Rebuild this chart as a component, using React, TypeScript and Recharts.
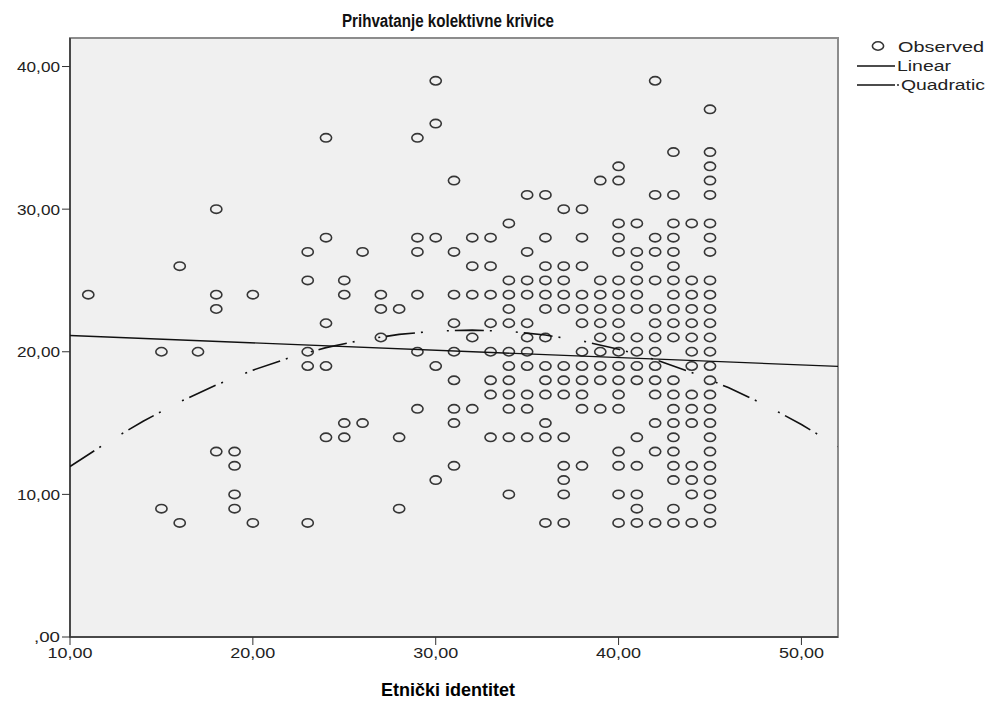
import React from "react";
import { ScatterChart, Scatter, XAxis, YAxis, CartesianGrid, ReferenceArea } from "recharts";

// Etnički identitet (x) columns and the observed scores at each one
const observedX = [11, 15, 16, 17, 18, 19, 20, 23, 24, 25, 26, 27, 28, 29, 30, 31, 32, 33, 34, 35, 36, 37, 38, 39, 40, 41, 42, 43, 44, 45];
const observedY: number[][] = [
  [24],
  [20, 9],
  [26, 8],
  [20],
  [30, 24, 23, 13],
  [13, 12, 10, 9],
  [24, 8],
  [27, 25, 20, 19, 8],
  [35, 28, 22, 19, 14],
  [25, 24, 15, 14],
  [27, 15],
  [24, 23, 21],
  [23, 14, 9],
  [35, 28, 27, 24, 20, 16],
  [39, 36, 28, 19, 11],
  [32, 27, 24, 22, 20, 18, 16, 15, 12],
  [28, 26, 24, 21, 16],
  [28, 26, 24, 22, 20, 18, 17, 14],
  [29, 25, 24, 23, 22, 20, 19, 18, 17, 16, 14, 10],
  [31, 27, 25, 24, 22, 21, 20, 19, 17, 16, 14],
  [31, 28, 26, 25, 24, 23, 21, 19, 18, 17, 15, 14, 8],
  [30, 26, 25, 24, 23, 19, 18, 17, 14, 12, 11, 10, 8],
  [30, 28, 26, 24, 23, 22, 20, 19, 18, 17, 16, 12],
  [32, 25, 24, 23, 22, 21, 20, 19, 18, 16],
  [33, 32, 29, 28, 27, 25, 24, 23, 22, 21, 20, 19, 18, 17, 16, 13, 12, 10, 8],
  [29, 27, 26, 25, 24, 23, 21, 20, 19, 18, 14, 12, 10, 9, 8],
  [39, 31, 28, 27, 25, 23, 22, 21, 20, 19, 18, 17, 15, 13, 8],
  [34, 31, 29, 28, 27, 26, 25, 24, 23, 22, 21, 18, 17, 16, 15, 14, 13, 12, 11, 9, 8],
  [29, 25, 24, 23, 22, 21, 20, 19, 17, 16, 15, 12, 11, 10, 8],
  [37, 34, 33, 32, 31, 29, 28, 27, 25, 24, 23, 22, 21, 20, 19, 18, 17, 16, 15, 14, 13, 12, 11, 10, 9, 8],
];

// fitted lines
const linearX = [10, 52];
const linearY = [21.14, 18.97];
const quadX = [10, 12, 14, 16, 18, 20, 22, 24, 26, 28, 30, 32, 34, 36, 38, 40, 42, 44, 46, 48, 50, 52];
const quadY = [11.95, 13.62, 15.13, 16.49, 17.67, 18.71, 19.58, 20.29, 20.83, 21.22, 21.45, 21.52, 21.43, 21.17, 20.76, 20.18, 19.45, 18.55, 17.49, 16.28, 14.9, 13.36];

const xTicks = [10, 20, 30, 40, 50];
const yTicks = [0, 10, 20, 30, 40];

const observed = observedX.flatMap((x, i) => observedY[i].map((y) => ({ x, y })));
const linear = linearX.map((x, i) => ({ x, y: linearY[i] }));
const quadratic = quadX.map((x, i) => ({ x, y: quadY[i] }));

const FONT = "'Liberation Sans', Arial, sans-serif";
const fmt = (v: number) => (v === 0 ? ",00" : v.toFixed(2).replace(".", ","));

const Ring = (props: any) => (
  <ellipse cx={props.cx} cy={props.cy} rx={5.6} ry={4.2} fill="none" stroke="#363636" strokeWidth={1.6} />
);
const NoDot = () => <g />;

// SPSS labels come out a bit wide, so stretch the glyphs to match
const XTick = (props: any) => {
  const label = fmt(props.payload.value);
  return (
    <text
      x={props.x}
      y={props.y}
      dy="0.75em"
      textAnchor="middle"
      fontFamily={FONT}
      fontSize={15}
      fill="#222"
      textLength={label.length > 3 ? 45 : 26}
      lengthAdjust="spacingAndGlyphs"
    >
      {label}
    </text>
  );
};

const YTick = (props: any) => {
  const label = fmt(props.payload.value);
  return (
    <text
      x={props.x}
      y={props.y}
      dy="0.36em"
      textAnchor="end"
      fontFamily={FONT}
      fontSize={15}
      fill="#222"
      textLength={label.length > 3 ? 43 : 26}
      lengthAdjust="spacingAndGlyphs"
    >
      {label}
    </text>
  );
};

const axisStyle = { stroke: "#333", strokeWidth: 1.5 };

export default function App() {
  return (
    <div style={{ position: "absolute", left: 0, top: 0, width: 987, height: 703, background: "#fff" }}>
      <svg style={{ position: "absolute", left: 0, top: 0 }} width={987} height={36}>
        <text
          x={448}
          y={27}
          textAnchor="middle"
          fontFamily={FONT}
          fontWeight="bold"
          fontSize={18}
          fill="#111"
          textLength={212}
          lengthAdjust="spacingAndGlyphs"
        >
          Prihvatanje kolektivne krivice
        </text>
      </svg>
      <ScatterChart width={987} height={703} margin={{ top: 38, right: 149, bottom: 36, left: 10 }}>
        <CartesianGrid fill="#f0f0f0" horizontal={false} vertical={false} />
        <ReferenceArea x1={10} x2={52} y1={0} y2={42} fill="none" stroke="#8c8c8c" strokeWidth={2} />
        <XAxis
          type="number"
          dataKey="x"
          domain={[10, 52]}
          ticks={xTicks}
          tickFormatter={fmt}
          height={30}
          tickSize={8}
          axisLine={axisStyle}
          tickLine={{ stroke: "#333" }}
          tick={<XTick />}
          allowDataOverflow
        />
        <YAxis
          type="number"
          dataKey="y"
          domain={[0, 42]}
          ticks={yTicks}
          tickFormatter={fmt}
          width={60}
          tickSize={8}
          axisLine={axisStyle}
          tickLine={{ stroke: "#333" }}
          tick={<YTick />}
          allowDataOverflow
        />
        <Scatter data={observed} shape={Ring} isAnimationActive={false} />
        <Scatter data={linear} line={{ stroke: "#111", strokeWidth: 1.3 }} shape={NoDot} isAnimationActive={false} />
        <Scatter
          data={quadratic}
          line={{ stroke: "#111", strokeWidth: 1.6, strokeDasharray: "29 6 2 24 2 6" }}
          lineType="joint"
          shape={NoDot}
          isAnimationActive={false}
        />
      </ScatterChart>
      <div
        style={{
          position: "absolute",
          left: 0,
          width: 896,
          top: 680,
          textAlign: "center",
          fontFamily: FONT,
          fontWeight: "bold",
          fontSize: 18,
        }}
      >
        Etnički identitet
      </div>
      <svg style={{ position: "absolute", left: 850, top: 36 }} width={137} height={60}>
        <ellipse cx={28} cy={10} rx={5.6} ry={4.2} fill="none" stroke="#363636" strokeWidth={1.6} />
        <text x={48} y={16} fontFamily={FONT} fontSize={14} fill="#222" textLength={86} lengthAdjust="spacingAndGlyphs">
          Observed
        </text>
        <line x1={7} x2={45} y1={30} y2={30} stroke="#111" strokeWidth={1.3} />
        <text x={47} y={35} fontFamily={FONT} fontSize={14} fill="#222" textLength={54} lengthAdjust="spacingAndGlyphs">
          Linear
        </text>
        <line x1={7} x2={45} y1={49} y2={49} stroke="#111" strokeWidth={1.3} />
        <circle cx={48} cy={49} r={0.9} fill="#111" />
        <text x={51} y={54} fontFamily={FONT} fontSize={14} fill="#222" textLength={84} lengthAdjust="spacingAndGlyphs">
          Quadratic
        </text>
      </svg>
    </div>
  );
}
